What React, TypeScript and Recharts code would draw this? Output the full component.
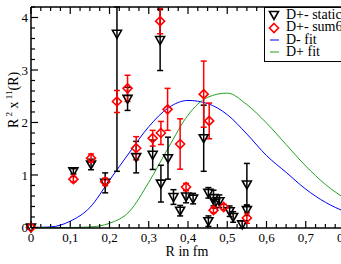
import {
  ComposedChart,
  XAxis,
  YAxis,
  Line,
  Scatter,
  ErrorBar,
  Legend,
} from "recharts";

// fit curves
const fitR = [0, 0.05, 0.1, 0.15, 0.2, 0.25, 0.3, 0.35, 0.4, 0.45, 0.5, 0.55, 0.6, 0.65, 0.7, 0.75, 0.8];
const dMinusFit = [0, 0.01, 0.12, 0.38, 0.9, 1.42, 1.92, 2.28, 2.42, 2.36, 2.15, 1.78, 1.37, 1.05, 0.73, 0.48, 0.3];
const dPlusFit = [0, 0, 0, 0.01, 0.08, 0.3, 0.86, 1.52, 2.14, 2.48, 2.56, 2.34, 1.99, 1.58, 1.17, 0.82, 0.55];

// D+- static (black triangles)
const staticR = [0, 0.108, 0.153, 0.189, 0.219, 0.246, 0.268, 0.31, 0.329, 0.331, 0.349, 0.363, 0.38, 0.395, 0.413, 0.44, 0.452, 0.452, 0.465, 0.469, 0.48, 0.506, 0.515, 0.538, 0.55, 0.55];
const staticVal = [0, 1.07, 1.2, 0.85, 3.69, 2.45, 1.34, 1.385, 3.57, 0.835, 1.32, 0.58, 0.32, 0.59, 0.55, 1.7, 0.66, 0.12, 0.56, 0.47, 0.5, 0.31, 0.2, 0.06, 0.82, 0.33];
const staticErr: (number | number[])[] = [0, 0.05, 0.1, 0.19, [2.62, 0.51], 0.22, 0.3, 0.28, 0.58, 0.35, 0.4, 0.14, 0.1, 0.12, 0.1, 0.63, 0.1, 0.1, 0.15, 0.1, 0.12, 0.1, 0.1, 0.07, 0.4, 0.1];

// D+- sum6 (red diamonds)
const sumR = [0, 0.108, 0.153, 0.189, 0.219, 0.246, 0.268, 0.31, 0.329, 0.331, 0.348, 0.38, 0.395, 0.44, 0.454, 0.465, 0.491, 0.55];
const sumVal = [0, 0.92, 1.32, 0.87, 2.4, 2.65, 1.51, 1.7, 3.93, 1.8, 2.25, 1.59, 0.77, 2.54, 2.03, 0.33, 0.39, 0.18];
const sumErr = [0, 0.05, 0.08, 0.07, 0.21, 0.25, 0.22, 0.15, 0.24, 0.22, 0.4, 0.48, 0.07, 0.63, 0.34, 0.05, 0.05, 0.1];

const xMajor = [0, 0.1, 0.2, 0.3, 0.4, 0.5, 0.6, 0.7, 0.8];
const xTickLabels = ["0", "0,1", "0,2", "0,3", "0,4", "0,5", "0,6", "0,7", "0,8"];
const yMajor = [0, 1, 2, 3, 4];
const yTickLabels = ["0", "1", "2", "3", "4"];

const xTicks = Array.from({ length: 33 }, (_, i) => i * 0.025);
const yTicks = Array.from({ length: 22 }, (_, i) => i * 0.2);

const fitData = fitR.map((x, i) => ({ x, dm: dMinusFit[i], dp: dPlusFit[i] }));
const staticData = staticR.map((x, i) => ({ x, y: staticVal[i], err: staticErr[i] }));
const sumData = sumR.map((x, i) => ({ x, y: sumVal[i], err: sumErr[i] }));

const FONT = "'Liberation Serif', 'DejaVu Serif', serif";

const majorIndex = (v, majors) => majors.findIndex((m) => Math.abs(m - v) < 1e-6);

const BottomTick = ({ x, y, payload }) => {
  const k = majorIndex(payload.value, xMajor);
  return (
    <g>
      <line x1={x} x2={x} y1={y} y2={y - (k >= 0 ? 7 : 4)} stroke="#000" strokeWidth={1.2} />
      {k >= 0 && (
        <text x={x} y={y + 14} textAnchor="middle" fontSize={13} fontFamily={FONT} fill="#000">
          {xTickLabels[k]}
        </text>
      )}
    </g>
  );
};

const TopTick = ({ x, y, payload }) => {
  const k = majorIndex(payload.value, xMajor);
  return <line x1={x} x2={x} y1={y} y2={y + (k >= 0 ? 7 : 4)} stroke="#000" strokeWidth={1.2} />;
};

const LeftTick = ({ x, y, payload }) => {
  const k = majorIndex(payload.value, yMajor);
  return (
    <g>
      <line x1={x} x2={x + (k >= 0 ? 7 : 4)} y1={y} y2={y} stroke="#000" strokeWidth={1.2} />
      {k >= 0 && (
        <text x={x - 3} y={y} dy="0.35em" textAnchor="end" fontSize={13} fontFamily={FONT} fill="#000">
          {yTickLabels[k]}
        </text>
      )}
    </g>
  );
};

const Triangle = ({ cx, cy, stroke = "#000" }) => (
  <polygon
    points={`${cx - 4.5},${cy - 3.5} ${cx + 4.5},${cy - 3.5} ${cx},${cy + 4.5}`}
    fill="none"
    stroke={stroke}
    strokeWidth={1.6}
  />
);

const Diamond = ({ cx, cy }) => (
  <polygon
    points={`${cx},${cy - 4.5} ${cx + 4.5},${cy} ${cx},${cy + 4.5} ${cx - 4.5},${cy}`}
    fill="none"
    stroke="#ff0000"
    strokeWidth={1.6}
  />
);

const LegendBox = () => {
  const rows = [
    { label: "D+- static", icon: <Triangle cx={7} cy={6} /> },
    { label: "D+- sum6", icon: <Diamond cx={7} cy={6} /> },
    { label: "D- fit", icon: <line x1={3} x2={12} y1={6} y2={6} stroke="#0000ff" strokeWidth={1} /> },
    { label: "D+ fit", icon: <line x1={3} x2={12} y1={6} y2={6} stroke="#22a022" strokeWidth={1} /> },
  ];
  return (
    <div
      style={{
        border: "1.5px solid #000",
        background: "#fff",
        padding: "1px 6px 2px 2px",
        fontFamily: FONT,
        fontSize: 14,
        lineHeight: "12.4px",
        width: 86,
      }}
    >
      {rows.map((r) => (
        <div key={r.label} style={{ display: "flex", alignItems: "center", height: 12.4 }}>
          <svg width={14} height={12} style={{ marginRight: 5, flexShrink: 0 }}>
            {r.icon}
          </svg>
          <span style={{ whiteSpace: "nowrap" }}>{r.label}</span>
        </div>
      ))}
    </div>
  );
};

export default function App() {
  return (
    <div
      style={{
        position: "absolute",
        left: 0,
        top: 0,
        width: 341,
        height: 264,
        overflow: "hidden",
        background: "#fff",
        fontFamily: FONT,
      }}
    >
      <ComposedChart
        width={352}
        height={264}
        data={fitData}
        margin={{ top: 6, right: 7, bottom: 35, left: 30 }}
      >
        <XAxis
          dataKey="x"
          type="number"
          domain={[0, 0.8]}
          ticks={xTicks}
          interval={0}
          height={1}
          tickSize={0}
          tickMargin={0}
          tickLine={false}
          tick={BottomTick}
          axisLine={{ stroke: "#000", strokeWidth: 1.5 }}
          label={{
            content: () => (
              <text x={187} y={256} textAnchor="middle" fontSize={14} fontFamily={FONT} fill="#000">
                R in fm
              </text>
            ),
          }}
        />
        <XAxis
          xAxisId="top"
          dataKey="x"
          type="number"
          orientation="top"
          domain={[0, 0.8]}
          ticks={xTicks}
          interval={0}
          height={1}
          tickSize={0}
          tickMargin={0}
          tickLine={false}
          tick={TopTick}
          axisLine={{ stroke: "#000", strokeWidth: 1.5 }}
        />
        <YAxis
          type="number"
          domain={[0, 4.2]}
          ticks={yTicks}
          interval={0}
          width={1}
          tickSize={0}
          tickMargin={0}
          tickLine={false}
          tick={LeftTick}
          axisLine={{ stroke: "#000", strokeWidth: 1.5 }}
          label={{
            content: () => (
              <text
                x={18}
                y={128}
                transform="rotate(-90 18 128)"
                fontSize={14}
                fontFamily={FONT}
                fill="#000"
              >
                R
                <tspan fontSize={9} dy={-6}>
                  {" 2"}
                </tspan>
                <tspan dy={6}>{" x"}</tspan>
                <tspan fontSize={9} dy={-6}>
                  {" 11"}
                </tspan>
                <tspan dy={6}>(R)</tspan>
              </text>
            ),
          }}
        />
        <Line
          dataKey="dm"
          type="monotone"
          stroke="#0000ff"
          strokeWidth={1}
          dot={false}
          activeDot={false}
          isAnimationActive={false}
        />
        <Line
          dataKey="dp"
          type="monotone"
          stroke="#22a022"
          strokeWidth={1}
          dot={false}
          activeDot={false}
          isAnimationActive={false}
        />
        <Scatter data={staticData} dataKey="y" shape={Triangle} isAnimationActive={false}>
          <ErrorBar dataKey="err" direction="y" width={3} stroke="#000" strokeWidth={1.5} />
        </Scatter>
        <Scatter data={sumData} dataKey="y" shape={Diamond} isAnimationActive={false}>
          <ErrorBar dataKey="err" direction="y" width={3} stroke="#ff0000" strokeWidth={1.5} />
        </Scatter>
        <Legend
          layout="vertical"
          align="center"
          verticalAlign="middle"
          content={LegendBox}
          wrapperStyle={{ position: "absolute", top: 7, left: 264, width: "auto" }}
        />
      </ComposedChart>
    </div>
  );
}
